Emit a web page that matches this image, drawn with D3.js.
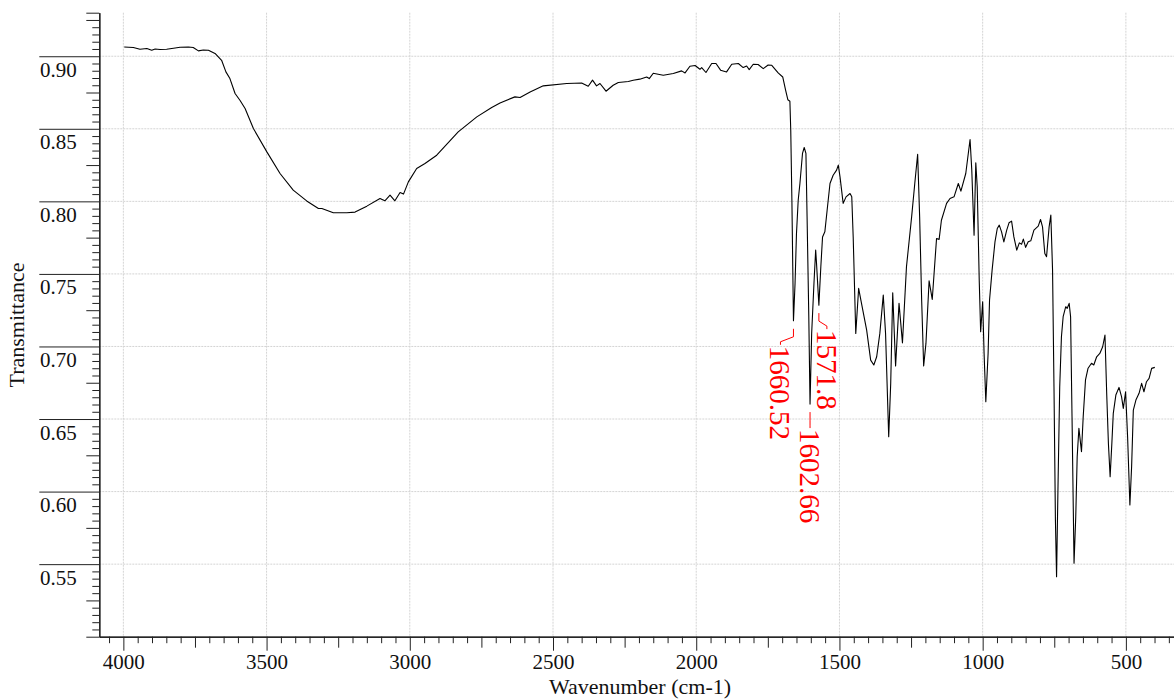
<!DOCTYPE html>
<html><head><meta charset="utf-8">
<script src="https://cdn.jsdelivr.net/npm/d3@7"></script>
<style>body{margin:0;background:#fff} svg{display:block}</style>
</head><body>
<svg id="c" width="1174" height="700"></svg>
<script>
const wavenumbers = [3997,3965,3942,3918,3901,3889,3872,3849,3825,3802,3773,3756,3738,3721,3703,3680,3657,3642,3628,3610,3593,3575,3546,3499,3453,3407,3360,3319,3307,3267,3220,3191,3150,3104,3087,3069,3052,3034,3022,3005,2976,2947,2906,2831,2766,2714,2685,2633,2615,2580,2534,2452,2400,2377,2362,2348,2336,2315,2290,2272,2237,2220,2197,2173,2164,2150,2133,2115,2080,2051,2039,2022,2004,1987,1981,1966,1946,1931,1915,1894,1876,1853,1836,1824,1815,1801,1784,1766,1749,1737,1714,1698,1688,1680,1673,1670,1666,1663,1660.52,1655,1650,1644,1638,1629,1623,1617,1613,1607,1602.66,1597,1589,1583,1580,1571.8,1565,1559,1551,1543,1533,1522,1510,1504,1498,1487,1477,1463,1457,1452,1443,1433,1423,1405,1391,1380,1370,1359,1347,1339,1328,1321,1314,1304,1292,1280,1266,1248,1237,1227,1220,1213,1206,1198,1187,1176,1161,1152,1144,1126,1114,1100,1085,1076,1059,1044,1038,1030,1024,1019,1012,1007,1000,995,989,981,976,967,957,949,942,934,926,916,908,899,891,881,872,864,858,850,841,832,821,806,798,791,783,777,768,762,756,751,746,742,737,731,725,719,710,705,698,693,688,681,675,670,664,655,649,641,632,620,612,602,591,581,573,567,561,555,549,544,535,524,515,509,501,494,486,480,474,465,454,445,437,428,419,410,399];
const transmittance = [0.9064,0.9060,0.9048,0.9053,0.9041,0.9050,0.9046,0.9048,0.9055,0.9062,0.9064,0.9060,0.9037,0.9043,0.9041,0.9019,0.8972,0.8892,0.8846,0.8743,0.8697,0.8640,0.8502,0.8341,0.8192,0.8077,0.8003,0.7951,0.7951,0.7921,0.7921,0.7926,0.7967,0.8020,0.8004,0.8043,0.8004,0.8061,0.8050,0.8134,0.8226,0.8261,0.8318,0.8479,0.8582,0.8647,0.8678,0.8720,0.8716,0.8754,0.8796,0.8812,0.8816,0.8793,0.8835,0.8796,0.8812,0.8759,0.8800,0.8819,0.8826,0.8835,0.8842,0.8857,0.8846,0.8883,0.8876,0.8869,0.8881,0.8899,0.8885,0.8931,0.8936,0.8910,0.8922,0.8888,0.8950,0.8950,0.8904,0.8892,0.8945,0.8950,0.8922,0.8933,0.8908,0.8945,0.8943,0.8915,0.8940,0.8938,0.8885,0.8857,0.8766,0.8700,0.8690,0.8490,0.8008,0.7550,0.7177,0.7434,0.7779,0.8008,0.8123,0.8330,0.8371,0.8330,0.7893,0.7204,0.6603,0.7090,0.7434,0.7664,0.7572,0.7285,0.7549,0.7755,0.7790,0.7939,0.8123,0.8180,0.8215,0.8250,0.8169,0.7986,0.8031,0.8054,0.8031,0.7755,0.7090,0.7400,0.7297,0.7113,0.6906,0.6872,0.6929,0.7090,0.7354,0.7090,0.6378,0.6746,0.7370,0.6865,0.7297,0.7025,0.7549,0.7893,0.8123,0.8325,0.7893,0.7320,0.6865,0.7021,0.7453,0.7324,0.7744,0.7738,0.7870,0.7986,0.8020,0.8031,0.8123,0.8070,0.8192,0.8426,0.8215,0.7767,0.8265,0.8100,0.7457,0.7101,0.7308,0.6952,0.6619,0.6952,0.7320,0.7526,0.7721,0.7813,0.7836,0.7790,0.7721,0.7802,0.7852,0.7864,0.7755,0.7664,0.7714,0.7705,0.7740,0.7683,0.7721,0.7728,0.7802,0.7829,0.7875,0.7824,0.7641,0.7618,0.7824,0.7905,0.7526,0.6722,0.5805,0.5414,0.6034,0.6722,0.7067,0.7205,0.7274,0.7262,0.7297,0.7205,0.6516,0.5506,0.5827,0.6240,0.6436,0.6275,0.6516,0.6769,0.6850,0.6884,0.6872,0.6929,0.6952,0.6998,0.7079,0.6677,0.6332,0.6103,0.6332,0.6539,0.6665,0.6718,0.6653,0.6573,0.6688,0.6378,0.5908,0.6171,0.6562,0.6631,0.6677,0.6746,0.6688,0.6757,0.6780,0.6849,0.6856];
const xTickValues = [4000,3500,3000,2500,2000,1500,1000,500];
const yTickValues = [0.55,0.60,0.65,0.70,0.75,0.80,0.85,0.90];
const peakWavenumbers = [1660.52,1602.66,1571.8];
const peakTransmittance = [0.7177,0.6603,0.7285];
const peakLabels = ["1660.52","1602.66","1571.8"];
const xTitle = "Wavenumber (cm-1)";
const yTitle = "Transmittance";

const FONT = "'Liberation Serif','Times New Roman',serif";
const svg = d3.select("#c");
const L = 99.3, R = 1174, T = 12.7, B = 636.7;
const x = d3.scaleLinear().domain([4084, 332]).range([L, R]);
const y = d3.scaleLinear().domain([0.50, 0.93]).range([B, T]);

// grid
const grid = svg.append("g").attr("stroke", "#d4d4d4").attr("stroke-width", 1).attr("stroke-dasharray", "2,1");
grid.selectAll("line.v").data(xTickValues).join("line")
  .attr("x1", d => x(d)).attr("x2", d => x(d)).attr("y1", T).attr("y2", B);
grid.selectAll("line.h").data(yTickValues).join("line")
  .attr("y1", d => y(d)).attr("y2", d => y(d)).attr("x1", L).attr("x2", R);

// x axis ticks
const xMinor = d3.range(350, 4051, 50).filter(v => v % 250 !== 0);
const xMid = d3.range(250, 4051, 250).filter(v => v % 500 !== 0 && v > 332);
function styleAxis(g){ g.selectAll("path,line").attr("stroke", "#222"); g.selectAll("text").attr("font-family", FONT).attr("fill", "#111"); }
svg.append("g").attr("transform", `translate(0,${B})`)
  .call(d3.axisBottom(x).tickValues(xMinor).tickSize(6.5).tickSizeOuter(0).tickFormat("")).call(styleAxis);
svg.append("g").attr("transform", `translate(0,${B})`)
  .call(d3.axisBottom(x).tickValues(xMid).tickSize(11).tickSizeOuter(0).tickFormat("")).call(styleAxis);
const gx = svg.append("g").attr("transform", `translate(0,${B})`)
  .call(d3.axisBottom(x).tickValues(xTickValues).tickSize(14).tickSizeOuter(0).tickPadding(6).tickFormat(d3.format("d")))
  .call(styleAxis);
gx.selectAll("text").attr("font-size", 21).attr("dy", null).attr("y", 32);

// y axis ticks
const yAll = d3.range(500, 931, 5).map(v => v / 1000);
const yMinor = yAll.filter(v => Math.round(v * 1000) % 25 !== 0 && v < 0.929);
const yMid = yAll.filter(v => (Math.round(v * 1000) % 25 === 0 && Math.round(v * 1000) % 50 !== 0) || v < 0.501 || v > 0.929);
svg.append("g").attr("transform", `translate(${L},0)`)
  .call(d3.axisLeft(y).tickValues(yMinor).tickSize(7).tickSizeOuter(0).tickFormat("")).call(styleAxis);
svg.append("g").attr("transform", `translate(${L},0)`)
  .call(d3.axisLeft(y).tickValues(yMid).tickSize(13).tickSizeOuter(0).tickFormat("")).call(styleAxis);
const gy = svg.append("g").attr("transform", `translate(${L},0)`)
  .call(d3.axisLeft(y).tickValues(yTickValues).tickSize(60).tickSizeOuter(0).tickFormat(d3.format(".2f")))
  .call(styleAxis);
gy.selectAll("text").attr("font-size", 21).attr("text-anchor", "start").attr("x", 40 - L).attr("dy", null).attr("y", 20);

// spectrum
const pts = wavenumbers.map((w, i) => [w, transmittance[i]]);
svg.append("path").datum(pts)
  .attr("fill", "none").attr("stroke", "#000").attr("stroke-width", 1.1).attr("stroke-linejoin", "round")
  .attr("d", d3.line().x(d => x(d[0])).y(d => y(d[1])));

// peak labels
const offsets = [-13, 0, 8];
const ann = svg.append("g").attr("fill", "none").attr("stroke", "#ff0000").attr("stroke-width", 1);
peakWavenumbers.forEach((w, i) => {
  const px = x(w), py = y(peakTransmittance[i]), dx = offsets[i];
  ann.append("path").attr("d", d3.line()([[px, py + 8], [px, py + 16], [px + dx, py + 21], [px + dx, py + 24]]));
  svg.append("text").attr("transform", `translate(${px + dx},${py + 25}) rotate(90)`)
    .attr("dominant-baseline", "central").attr("font-family", FONT).attr("font-size", 29)
    .attr("fill", "#ff0000").text(peakLabels[i]);
});

// titles
svg.append("text").attr("x", 640).attr("y", 694).attr("text-anchor", "middle")
  .attr("font-family", FONT).attr("font-size", 22).attr("fill", "#111").text(xTitle);
svg.append("text").attr("transform", `translate(24,325) rotate(-90)`).attr("text-anchor", "middle")
  .attr("font-family", FONT).attr("font-size", 22).attr("fill", "#111").text(yTitle);
</script>
</body></html>
